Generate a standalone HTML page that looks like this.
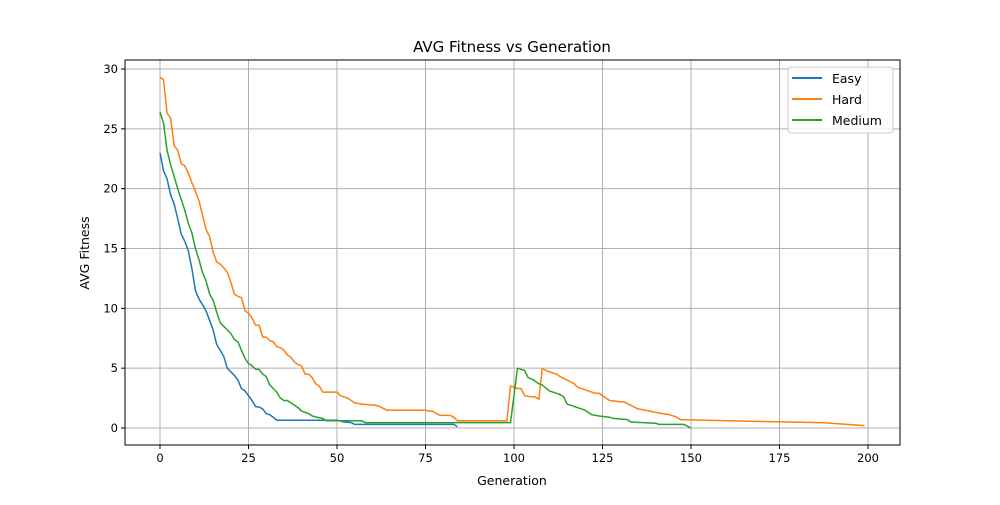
<!DOCTYPE html>
<html><head><meta charset="utf-8"><style>
body{margin:0;background:#fff;}
svg text{font-family:"DejaVu Sans","Liberation Sans",sans-serif;fill:#000;}
</style></head><body>
<svg id="chart" width="1000" height="500" xmlns="http://www.w3.org/2000/svg">
<rect width="1000" height="500" fill="#fff"/>
<g id="grid"></g>
<g id="series"></g>
<rect x="125" y="60" width="775" height="385" fill="none" stroke="#000" stroke-width="1"/>
<g id="ticks"></g>
<text x="512" y="52" font-size="15" text-anchor="middle">AVG Fitness vs Generation</text>
<text x="512" y="485" font-size="12.5" text-anchor="middle">Generation</text>
<text x="89" y="253" font-size="12.5" text-anchor="middle" transform="rotate(-90 89 253)">AVG Fitness</text>
<g>
<rect x="788" y="67" width="105" height="66" rx="3" fill="#fff" fill-opacity="0.8" stroke="#ccc"/>
<line x1="792" y1="78" x2="822" y2="78" stroke="#1f77b4" stroke-width="2"/>
<text x="832" y="83" font-size="12.5">Easy</text>
<line x1="792" y1="99" x2="822" y2="99" stroke="#ff7f0e" stroke-width="2"/>
<text x="832" y="104" font-size="12.5">Hard</text>
<line x1="792" y1="120" x2="822" y2="120" stroke="#2ca02c" stroke-width="2"/>
<text x="832" y="125" font-size="12.5">Medium</text>
</g>
</svg>
<script>
const xTicks=[0,25,50,75,100,125,150,175,200];
const yTicks=[0,5,10,15,20,25,30];
const easyGen=[0,1,2,3,4,5,6,7,8,9,10,11,12,13,14,15,16,17,18,19,20,21,22,23,24,25,26,27,28,29,30,31,32,33,50,52,54,55,83,84];
const easyFit=[23,21.5,20.8,19.5,18.7,17.5,16.2,15.6,14.8,13.3,11.5,10.8,10.3,9.8,9.0,8.2,7.0,6.5,6.0,5.0,4.7,4.4,4.0,3.3,3.1,2.7,2.3,1.8,1.75,1.6,1.2,1.1,0.9,0.65,0.65,0.5,0.45,0.3,0.3,0.1];
const hardGen=[0,1,2,3,4,5,6,7,8,9,10,11,12,13,14,15,16,17,18,19,20,21,22,23,24,25,26,27,28,29,30,31,32,33,34,35,36,37,38,39,40,41,42,43,44,45,46,50,51,53,55,57,59,61,62,64,75,76,77,79,82,83,84,98,99,101,102,103,105,106,107,108,109,110,111,112,113,115,117,118,120,121,123,124,127,130,131,133,135,137,140,142,144,146,147,168,169,186,187,199];
const hardFit=[29.3,29.1,26.3,25.9,23.6,23.2,22.1,21.9,21.3,20.5,19.8,19.0,17.8,16.6,16.0,14.7,13.9,13.7,13.4,13.0,12.2,11.2,11.0,10.9,9.8,9.6,9.2,8.6,8.6,7.6,7.6,7.3,7.2,6.8,6.7,6.5,6.1,5.9,5.5,5.3,5.2,4.5,4.5,4.2,3.7,3.5,3.0,3.0,2.7,2.5,2.1,2.0,1.95,1.9,1.8,1.5,1.5,1.4,1.4,1.05,1.05,0.9,0.6,0.6,3.5,3.3,3.3,2.7,2.6,2.6,2.4,5.0,4.8,4.7,4.6,4.5,4.3,4.0,3.7,3.4,3.2,3.1,2.9,2.9,2.3,2.2,2.2,1.9,1.6,1.5,1.3,1.2,1.1,0.9,0.7,0.55,0.55,0.45,0.45,0.2,0.2];
const medGen=[0,1,2,3,4,5,6,7,8,9,10,11,12,13,14,15,16,17,18,19,20,21,22,23,24,25,26,27,28,29,30,31,32,33,34,35,36,37,38,39,40,42,43,45,46,47,57,58,99,101,102,103,104,105,106,107,108,110,112,113,114,115,118,120,122,124,127,128,132,133,140,141,148,150];
const medFit=[26.4,25.5,23.2,22,21,20,19.1,18.2,17.1,16.3,15,14.1,13,12.3,11.2,10.7,9.7,8.8,8.5,8.2,7.9,7.4,7.2,6.5,5.8,5.4,5.2,4.9,4.9,4.5,4.3,3.6,3.3,3.0,2.5,2.3,2.3,2.1,1.9,1.7,1.4,1.2,1.0,0.85,0.8,0.6,0.6,0.45,0.45,5.0,4.9,4.8,4.2,4.1,3.9,3.7,3.6,3.1,2.9,2.8,2.6,2.0,1.7,1.5,1.1,1.0,0.9,0.8,0.7,0.5,0.4,0.3,0.3,0.0];
const X0=125,X1=900,Y0=445,Y1=60;
function sx(g){return 160+(g)*(868-160)/200;}
function sy(v){return 428-v*(428-69)/30;}
const NS="http://www.w3.org/2000/svg";
const grid=document.getElementById('grid'),ticks=document.getElementById('ticks'),series=document.getElementById('series');
function mk(t,a){const e=document.createElementNS(NS,t);for(const k in a)e.setAttribute(k,a[k]);return e;}
xTicks.forEach(t=>{const x=sx(t);
 const g=mk('line',{x1:x,x2:x,y1:Y1,y2:Y0,stroke:'#b0b0b0','stroke-width':1});
 
 
 grid.appendChild(g);
 const tk=mk('line',{x1:x,x2:x,y1:Y0,y2:Y0+4,stroke:'#000'});
 
 
 ticks.appendChild(tk);
 const tx=mk('text',{x:x,y:Y0+17,'font-size':11.5,'text-anchor':'middle'});tx.textContent=t;
 
 
 ticks.appendChild(tx);});
yTicks.forEach(t=>{const y=sy(t);
 const g=mk('line',{x1:X0,x2:X1,y1:y,y2:y,stroke:'#b0b0b0','stroke-width':1});
 
 
 grid.appendChild(g);
 const tk=mk('line',{x1:X0-4,x2:X0,y1:y,y2:y,stroke:'#000'});
 
 
 ticks.appendChild(tk);
 const tx=mk('text',{x:X0-7,y:y+4,'font-size':11.5,'text-anchor':'end'});tx.textContent=t;
 
 
 ticks.appendChild(tx);});
function line(gs,vs,c,name){const p=gs.map((g,i)=>sx(g).toFixed(1)+','+sy(vs[i]).toFixed(1)).join(' ');
 const e=mk('polyline',{points:p,fill:'none',stroke:c,'stroke-width':1.5,'stroke-linejoin':'round'});
 
 
 series.appendChild(e);}
line(easyGen,easyFit,'#1f77b4','easy-line');
line(hardGen,hardFit,'#ff7f0e','hard-line');
line(medGen,medFit,'#2ca02c','medium-line');
</script>
</body></html>
